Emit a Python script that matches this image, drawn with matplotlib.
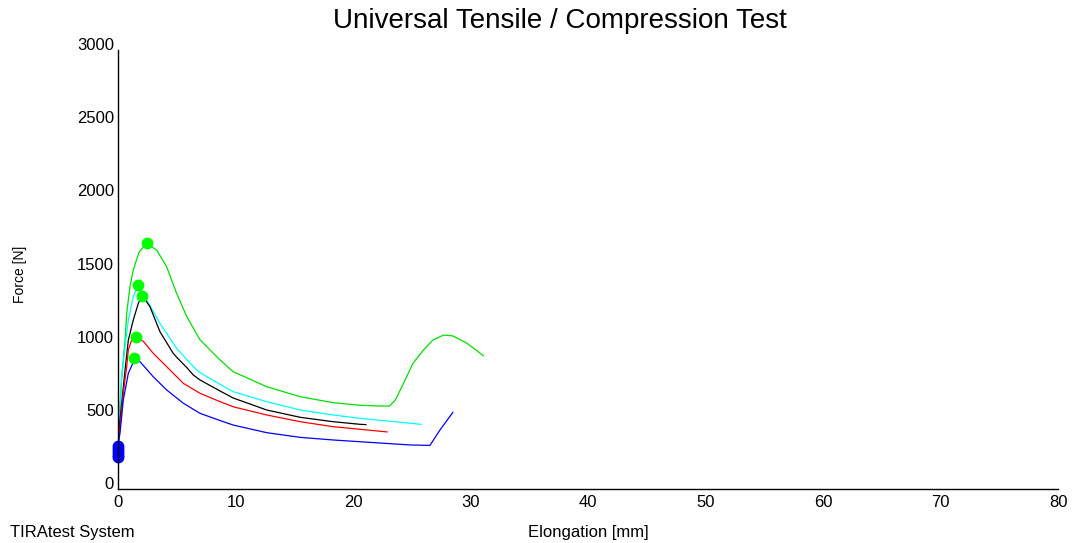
import matplotlib
matplotlib.use("Agg")
import matplotlib.pyplot as plt

plt.rcParams['font.family'] = ['Liberation Sans', 'DejaVu Sans']

# elongation [mm] / force [N]
green_x = [0.0, 0.3, 0.6, 0.74, 1.02, 1.3, 1.8, 2.44, 3.29, 4.14, 4.99, 5.85, 6.98, 8.68, 9.8, 12.65, 15.5,
           18.3, 20.6, 22.3, 23.1, 23.6, 24.3, 25.1, 26.0, 26.8, 27.7, 28.5, 29.7, 31.1]
green_f = [300, 750, 1018, 1201, 1383, 1497, 1620, 1679, 1633, 1519, 1337, 1178, 1020, 882, 802, 699, 631,
           590, 572, 567, 567, 608, 722, 859, 950, 1018, 1052, 1046, 996, 911]
cyan_x = [0.0, 0.3, 0.6, 0.88, 1.3, 1.73, 2.44, 3.57, 5.0, 6.41, 6.98, 8.68, 9.8, 12.65, 15.5, 18.3, 20.6, 25.8]
cyan_f = [300, 750, 973, 1155, 1314, 1394, 1292, 1132, 960, 836, 795, 715, 665, 597, 540, 506, 483, 442]
black_x = [0.0, 0.17, 0.6, 0.88, 1.3, 1.73, 2.07, 2.72, 3.57, 4.7, 5.0, 5.85, 6.41, 6.98, 8.68, 9.8, 12.65,
           15.5, 18.3, 20.6, 21.1]
black_f = [300, 472, 813, 1018, 1155, 1269, 1321, 1246, 1075, 927, 900, 830, 779, 745, 670, 622, 540,
           490, 460, 442, 440]
red_x = [0.0, 0.17, 0.45, 0.74, 0.88, 1.16, 1.5, 2.15, 3.0, 4.14, 5.56, 6.98, 8.68, 9.8, 12.65, 15.5, 18.3,
         20.6, 22.9]
red_f = [300, 426, 654, 836, 950, 1018, 1037, 1010, 927, 836, 722, 654, 597, 562, 506, 460, 426,
         408, 390]
blue_x = [0.0, 0.17, 0.45, 0.88, 1.45, 1.87, 3.0, 4.14, 5.56, 6.98, 8.68, 9.8, 12.65, 15.5, 18.3, 20.6,
          24.85, 26.55, 27.4, 28.5]
blue_f = [300, 381, 608, 791, 893, 870, 767, 677, 586, 517, 468, 437, 385, 353, 335, 323,
          301, 298, 403, 524]

# maximum force points (green) and start points (blue)
max_x = [2.44, 1.73, 2.07, 1.5, 1.4]
max_f = [1679, 1394, 1321, 1037, 893]
start_x = [0.0, 0.0, 0.0, 0.0, 0.0]
start_f = [295, 275, 255, 235, 220]

x_ticks = [0, 10, 20, 30, 40, 50, 60, 70, 80]
y_ticks = [0, 500, 1000, 1500, 2000, 2500, 3000]

fig = plt.figure(figsize=(10.76, 5.43), dpi=100)
ax = fig.add_axes([118 / 1076, 1 - 489 / 543, 940 / 1076, 439 / 543])

ax.plot(green_x, green_f, color='#00e000', lw=0.9)
ax.plot(cyan_x, cyan_f, color='#00ffff', lw=0.9)
ax.plot(black_x, black_f, color='black', lw=0.9)
ax.plot(red_x, red_f, color='#ff0000', lw=0.9)
ax.plot(blue_x, blue_f, color='#0000ff', lw=0.9)
ax.plot(max_x, max_f, 'o', color='#00ff00', ms=7.5, ls='none')
ax.plot(start_x, start_f, 'o', color='#0000ff', ms=7.5, ls='none', clip_on=False)

ax.set_xlim(0, 80)
ax.set_ylim(0, 3000)
ax.set_xticks(x_ticks)
ax.set_yticks(y_ticks)
ax.tick_params(length=0, labelsize=12)
ax.tick_params(axis='y', pad=3)
ax.tick_params(axis='x', pad=4)
for lab in ax.get_yticklabels():
    lab.set_va('baseline')
for s in ['top', 'right']:
    ax.spines[s].set_visible(False)
for s in ['left', 'bottom']:
    ax.spines[s].set_linewidth(1)

fig.text(588 / 1076, 1 - 532 / 543, 'Elongation [mm]', ha='center', va='center', fontsize=12)
fig.text(10 / 1076, 1 - 532 / 543, 'TIRAtest System', ha='left', va='center', fontsize=12)
fig.text(20 / 1076, 1 - 274 / 543, 'Force [N]', ha='center', va='center', rotation=90, fontsize=10)
fig.text(560 / 1076, 1 - 21 / 543, 'Universal Tensile / Compression Test', ha='center', va='center', fontsize=20)

fig.savefig('out.png', dpi=100)
